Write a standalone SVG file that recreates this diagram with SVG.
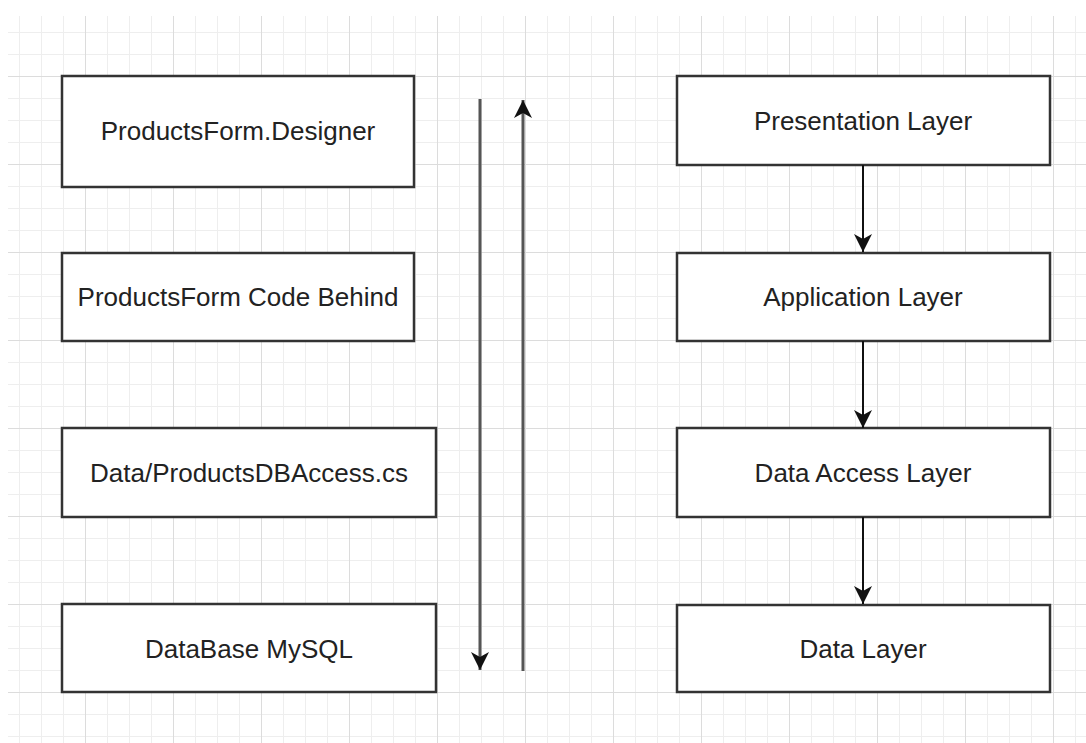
<svg xmlns="http://www.w3.org/2000/svg" width="1086" height="743" viewBox="0 0 1086 743">
<style>
.box{fill:#ffffff;stroke:#333333;stroke-width:2.5}
.lbl{font-family:"Liberation Sans",Arial,sans-serif;font-size:26px;fill:#222222;text-anchor:middle}
.long{stroke:#555555;stroke-width:3;fill:none}
.short{stroke:#111111;stroke-width:2;fill:none}
</style>
<defs>
<pattern id="grid" patternUnits="userSpaceOnUse" x="85" y="76" width="88" height="88">
<path d="M22.5,0V88M44.5,0V88M66.5,0V88M0,22.5H88M0,44.5H88M0,66.5H88" stroke="#eeeeee" stroke-width="1" fill="none"/>
<path d="M0.5,0V88M0,0.5H88" stroke="#dcdcdc" stroke-width="1" fill="none"/>
</pattern>
<marker id="arrow" viewBox="-20 -10 20 20" refX="0" refY="0" markerWidth="20" markerHeight="20" markerUnits="userSpaceOnUse" orient="auto">
<path d="M0,0 L-18,-9 L-13,0 L-18,9 Z" fill="#111111"/>
</marker>
</defs>
<rect x="0" y="0" width="1086" height="743" fill="#ffffff"/>
<rect x="8" y="16" width="1078" height="727" fill="url(#grid)"/>

<g id="n-designer"><rect class="box" x="62" y="76" width="352" height="111"/><text class="lbl" x="238" y="140">ProductsForm.Designer</text></g>
<g id="n-codebehind"><rect class="box" x="62" y="253" width="352" height="88"/><text class="lbl" x="238" y="306">ProductsForm Code Behind</text></g>
<g id="n-dbaccess"><rect class="box" x="62" y="428" width="374" height="89"/><text class="lbl" x="249" y="482">Data/ProductsDBAccess.cs</text></g>
<g id="n-mysql"><rect class="box" x="62" y="604" width="374" height="88"/><text class="lbl" x="249" y="658">DataBase MySQL</text></g>

<g id="n-presentation"><rect class="box" x="677" y="76" width="373" height="89"/><text class="lbl" x="863" y="130">Presentation Layer</text></g>
<g id="n-application"><rect class="box" x="677" y="253" width="373" height="88"/><text class="lbl" x="863" y="306">Application Layer</text></g>
<g id="n-dataaccess"><rect class="box" x="677" y="428" width="373" height="89"/><text class="lbl" x="863" y="482">Data Access Layer</text></g>
<g id="n-datalayer"><rect class="box" x="677" y="605" width="373" height="87"/><text class="lbl" x="863" y="658">Data Layer</text></g>

<g id="connectors">
<path class="long" d="M480,99 L480,670" marker-end="url(#arrow)"/>
<path class="long" d="M523,671 L523,100" marker-end="url(#arrow)"/>
<path class="short" d="M863,165 L863,252" marker-end="url(#arrow)"/>
<path class="short" d="M863,341 L863,428" marker-end="url(#arrow)"/>
<path class="short" d="M863,517 L863,604" marker-end="url(#arrow)"/>
</g>
</svg>
